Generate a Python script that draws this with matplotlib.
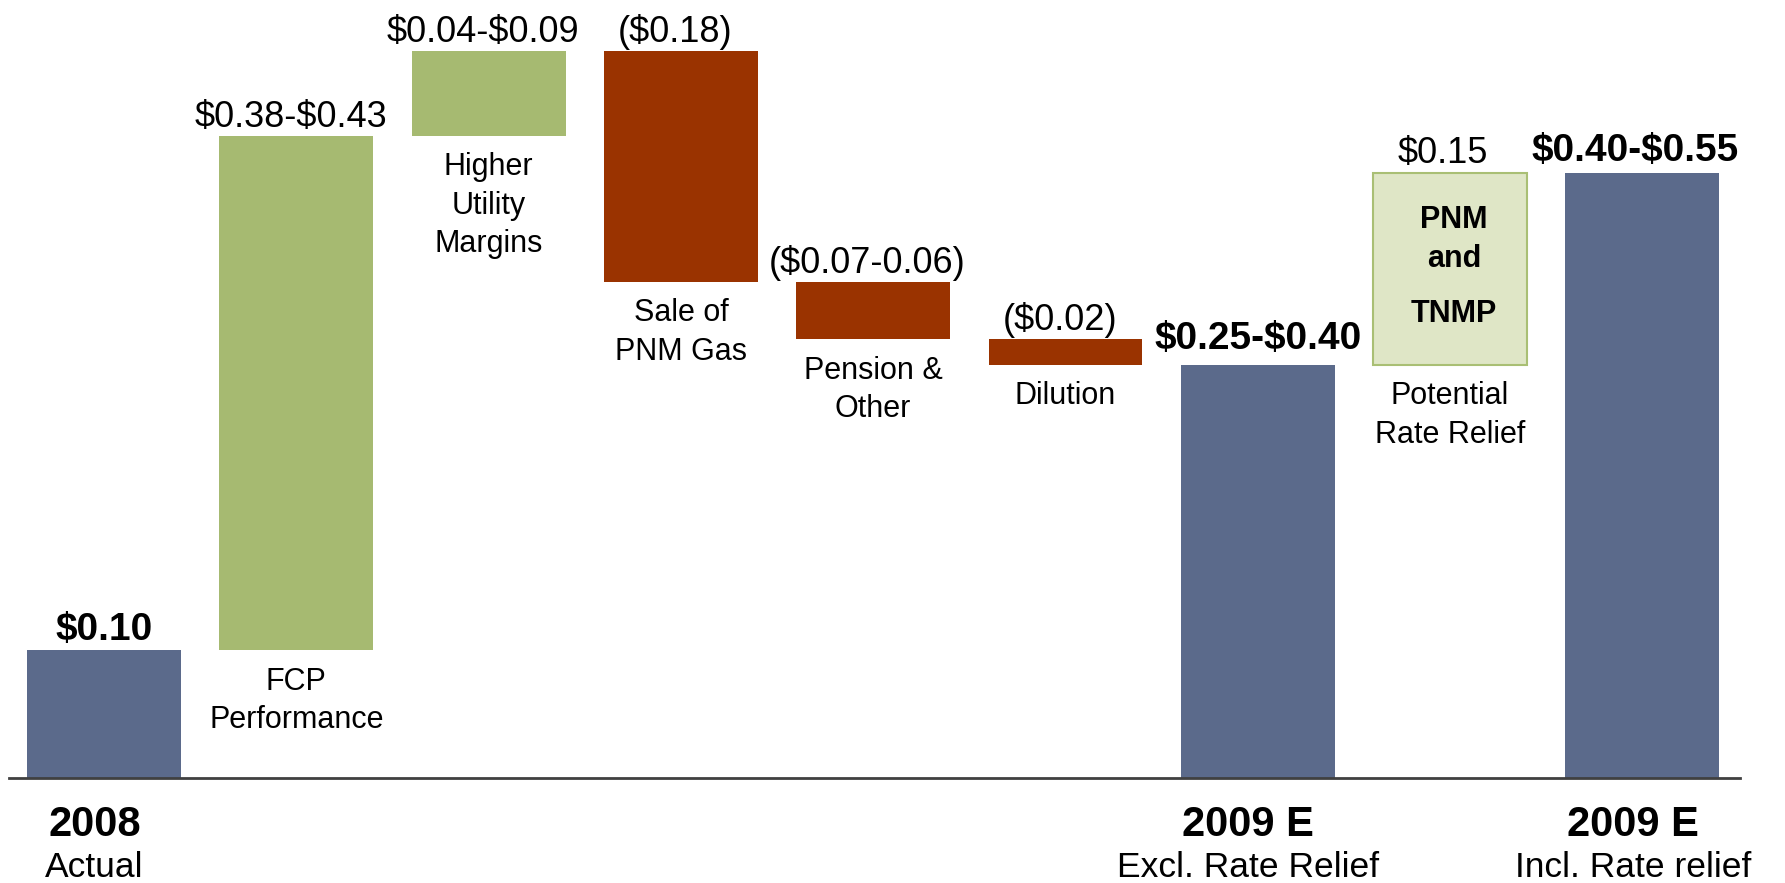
import numpy as np
import matplotlib
matplotlib.use("Agg")
import matplotlib.pyplot as plt

plt.rcParams['font.family'] = ['Liberation Sans', 'DejaVu Sans']

# starting point and the steps of the bridge
start_value = 0.10
step_names = ["FCP\nPerformance", "Higher\nUtility\nMargins", "Sale of\nPNM Gas",
              "Pension &\nOther", "Dilution"]
step_deltas = [0.402, 0.066, -0.180, -0.045, -0.020]
step_labels = ["\\$0.38-\\$0.43", "\\$0.04-\\$0.09", "(\\$0.18)", "(\\$0.07-0.06)", "(\\$0.02)"]

rate_relief_name = "Potential\nRate Relief"
rate_relief_delta = 0.150
rate_relief_label = "\\$0.15"

total_titles = ["2008", "2009 E", "2009 E"]
total_subtitles = ["Actual", "Excl. Rate Relief", "Incl. Rate relief"]
total_labels = ["\\$0.10", "\\$0.25-\\$0.40", "\\$0.40-\\$0.55"]

blue = '#5B6A8B'
green = '#A6BA71'
red = '#9A3300'

fig = plt.figure(figsize=(17.85, 8.83), dpi=100)
ax = fig.add_axes([0, 0, 1, 1])
ax.set_xlim(-0.541, 8.742)
ax.set_ylim(-0.082, 0.608)
ax.axis('off')

w = 0.8
gap = 0.008

# 2008 actual
ax.bar(0, start_value, width=w, color=blue)
ax.text(0, start_value + gap, total_labels[0], ha='center', va='baseline',
        fontsize=28, fontweight='bold')

# steps
level = start_value
for i, (name, d, lab) in enumerate(zip(step_names, step_deltas, step_labels)):
    x = i + 1
    lo, hi = min(level, level + d), max(level, level + d)
    ax.bar(x, hi - lo, bottom=lo, width=w, color=green if d > 0 else red)
    ax.text(x - 0.03, hi + 0.007, lab, ha='center', va='baseline', fontsize=26)
    ax.text(x, lo - 0.013, name, ha='center', va='top', fontsize=22, linespacing=1.37)
    level += d

excl_total = level
ax.bar(6, excl_total, width=w, color=blue)
ax.text(6, excl_total + 0.012, total_labels[1], ha='center', va='baseline',
        fontsize=28, fontweight='bold')

# potential rate relief box
ax.bar(7, rate_relief_delta, bottom=excl_total, width=w, color='#DFE6C6',
       edgecolor='#A9BF74', linewidth=1.5)
ax.text(7 - 0.04, excl_total + rate_relief_delta + gap, rate_relief_label,
        ha='center', va='baseline', fontsize=26)
ax.text(7, excl_total - 0.013, rate_relief_name, ha='center', va='top',
        fontsize=22, linespacing=1.37)
box_mid = excl_total + rate_relief_delta / 2
ax.text(7.02, box_mid + 0.032, "PNM", ha='center', va='baseline', fontsize=22, fontweight='bold')
ax.text(7.02, box_mid + 0.001, "and", ha='center', va='baseline', fontsize=22, fontweight='bold')
ax.text(7.02, box_mid - 0.042, "TNMP", ha='center', va='baseline', fontsize=22, fontweight='bold')

incl_total = excl_total + rate_relief_delta
ax.bar(8, incl_total, width=w, color=blue)
ax.text(8 - 0.04, incl_total + 0.009, total_labels[2], ha='center', va='baseline',
        fontsize=28, fontweight='bold')

# baseline
ax.axhline(0, xmin=0.005, xmax=0.975, color='#404040', lw=2)

# year labels under the totals
for x, t, s in zip([0, 6, 8], total_titles, total_subtitles):
    ax.text(x - 0.05, -0.021, t, ha='center', va='top', fontsize=30, fontweight='bold')
    ax.text(x - 0.05, -0.057, s, ha='center', va='top', fontsize=25.5)

fig.savefig('out.png', dpi=100)
